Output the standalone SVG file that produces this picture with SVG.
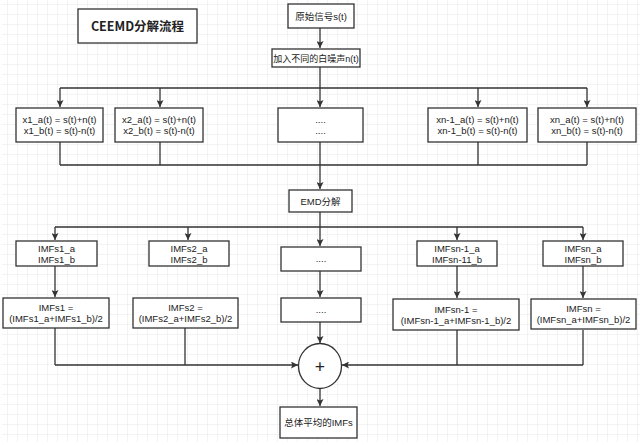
<svg xmlns="http://www.w3.org/2000/svg" width="640" height="445" viewBox="0 0 640 445">
<defs>
<pattern id="grid" x="7" y="4" width="10" height="10" patternUnits="userSpaceOnUse">
<path d="M10 0 L0 0 L0 10" fill="none" stroke="#e8e8e8" stroke-width="1"/>
</pattern>
<marker id="arr" viewBox="0 0 10 10" refX="10" refY="5" markerWidth="7" markerHeight="7" markerUnits="userSpaceOnUse" orient="auto">
<path d="M0 0 L10 5 L0 10 L2 5 Z" fill="#333"/>
</marker>
<style>
.box{fill:#fff;stroke:#333;stroke-width:1.3}
.t{font-family:"Liberation Sans","Noto Sans CJK SC",sans-serif;font-size:9.5px;fill:#222;text-anchor:middle}
.title{font-family:"Noto Sans CJK SC","Noto Sans",sans-serif;font-size:12.5px;font-weight:bold;fill:#222;text-anchor:middle}
.c{fill:none;stroke:#333;stroke-width:1.3}
.a{fill:none;stroke:#333;stroke-width:1.3;marker-end:url(#arr)}
</style>
</defs>
<rect width="640" height="445" fill="#fff"/>
<rect x="2" y="0" width="638" height="442" fill="url(#grid)"/>

<g id="connectors">
<path class="a" d="M320 28 V48"/>
<path class="c" d="M320 67 V88 M60 88 H587"/>
<path class="a" d="M60 88 V107"/>
<path class="a" d="M160 88 V107"/>
<path class="a" d="M320 88 V107"/>
<path class="a" d="M478 88 V107"/>
<path class="a" d="M587 88 V107"/>
<path class="c" d="M60 142 V165 M160 142 V165 M320 142 V165 M478 142 V165 M587 142 V165 M60 165 H587"/>
<path class="a" d="M320 165 V189"/>
<path class="c" d="M320 212 V227 M55 227 H583"/>
<path class="a" d="M55 227 V240"/>
<path class="a" d="M188 227 V240"/>
<path class="a" d="M320 227 V246"/>
<path class="a" d="M457 227 V240"/>
<path class="a" d="M583 227 V240"/>
<path class="a" d="M55 266 V297"/>
<path class="a" d="M320 271 V297"/>
<path class="a" d="M457 266 V298"/>
<path class="a" d="M583 266 V298"/>
<path class="c" d="M55 328 V365 M185 328 V365"/>
<path class="a" d="M55 365 H298"/>
<path class="c" d="M457 330 V365 M583 330 V365"/>
<path class="a" d="M583 365 H342"/>
<path class="a" d="M320 322 V343"/>
<path class="a" d="M320 389 V406"/>
</g>

<g id="title"><rect class="box" x="78" y="9" width="119" height="34"/><text class="title" x="137.5" y="30.5">CEEMD分解流程</text></g>
<g id="signal"><rect class="box" x="288" y="4" width="66" height="24"/><text class="t" x="321" y="19.5">原始信号s(t)</text></g>
<g id="noise"><rect class="box" x="272" y="49" width="88" height="18"/><text class="t" x="316" y="61.5" style="font-size:9px">加入不同的白噪声n(t)</text></g>

<g id="x1"><rect class="box" x="16" y="108" width="87" height="34"/><text class="t" x="59.5" y="123">x1_a(t) = s(t)+n(t)</text><text class="t" x="59.5" y="134">x1_b(t) = s(t)-n(t)</text></g>
<g id="x2"><rect class="box" x="115" y="108" width="88" height="34"/><text class="t" x="159" y="123">x2_a(t) = s(t)+n(t)</text><text class="t" x="159" y="134">x2_b(t) = s(t)-n(t)</text></g>
<g id="xdots"><rect class="box" x="278" y="108" width="85" height="34"/><text class="t" x="320.5" y="123">....</text><text class="t" x="320.5" y="134">....</text></g>
<g id="xn1"><rect class="box" x="428" y="108" width="99" height="34"/><text class="t" x="477.5" y="123">xn-1_a(t) = s(t)+n(t)</text><text class="t" x="477.5" y="134">xn-1_b(t) = s(t)-n(t)</text></g>
<g id="xn"><rect class="box" x="538" y="108" width="98" height="34"/><text class="t" x="587" y="123">xn_a(t) = s(t)+n(t)</text><text class="t" x="587" y="134">xn_b(t) = s(t)-n(t)</text></g>

<g id="emd"><rect class="box" x="289" y="190" width="63" height="22"/><text class="t" x="320.5" y="204.5">EMD分解</text></g>

<g id="imf1ab"><rect class="box" x="16" y="241" width="81" height="25"/><text class="t" x="56.5" y="251.5">IMFs1_a</text><text class="t" x="56.5" y="262.5">IMFs1_b</text></g>
<g id="imf2ab"><rect class="box" x="149" y="241" width="80" height="25"/><text class="t" x="189" y="251.5">IMFs2_a</text><text class="t" x="189" y="262.5">IMFs2_b</text></g>
<g id="imfdots"><rect class="box" x="281" y="247" width="80" height="24"/><text class="t" x="321" y="262">....</text></g>
<g id="imfn1ab"><rect class="box" x="417" y="241" width="80" height="25"/><text class="t" x="457" y="251.5">IMFsn-1_a</text><text class="t" x="457" y="262.5">IMFsn-11_b</text></g>
<g id="imfnab"><rect class="box" x="543" y="241" width="80" height="25"/><text class="t" x="583" y="251.5">IMFsn_a</text><text class="t" x="583" y="262.5">IMFsn_b</text></g>

<g id="imf1"><rect class="box" x="3" y="298" width="106" height="30"/><text class="t" x="56" y="311">IMFs1 =</text><text class="t" x="56" y="322">(IMFs1_a+IMFs1_b)/2</text></g>
<g id="imf2"><rect class="box" x="133" y="298" width="105" height="30"/><text class="t" x="185.5" y="311">IMFs2 =</text><text class="t" x="185.5" y="322">(IMFs2_a+IMFs2_b)/2</text></g>
<g id="imfdots2"><rect class="box" x="281" y="298" width="80" height="24"/><text class="t" x="321" y="313">....</text></g>
<g id="imfn1"><rect class="box" x="393" y="299" width="126" height="31"/><text class="t" x="456" y="312.5">IMFsn-1 =</text><text class="t" x="456" y="323.5">(IMFsn-1_a+IMFsn-1_b)/2</text></g>
<g id="imfn"><rect class="box" x="531" y="299" width="105" height="30"/><text class="t" x="583.5" y="312">IMFsn =</text><text class="t" x="583.5" y="323">(IMFsn_a+IMFsn_b)/2</text></g>

<g id="sum"><ellipse class="box" cx="320" cy="366" rx="21.5" ry="22.5"/><text x="320" y="372.5" font-family="'Noto Sans','Liberation Sans',sans-serif" font-size="18" fill="#222" text-anchor="middle">+</text></g>
<g id="result"><rect class="box" x="280" y="407" width="77" height="31"/><text class="t" x="318.5" y="426">总体平均的IMFs</text></g>
</svg>
